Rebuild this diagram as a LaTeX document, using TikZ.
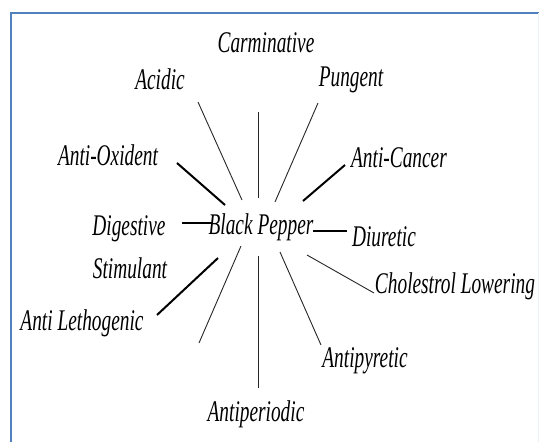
\documentclass[tikz,border=0pt]{standalone}
\usepackage{fontspec}
\setmainfont{Liberation Serif}
\usetikzlibrary{positioning}
\definecolor{frameblue}{RGB}{79,129,189}

\tikzset{
  prop/.style={font=\itshape\fontsize{30}{32}\selectfont, anchor=base,
    inner sep=0pt, xscale=0.645},
  thinspoke/.style={line width=0.9pt, black!85},
  thickspoke/.style={line width=2pt, black}
}

\begin{document}
\begin{tikzpicture}[x=1pt, y=-1pt]
    \useasboundingbox (0,0) rectangle (539,442);

    % Frame
    \draw[frameblue, line width=2pt] (11,442) -- (11,13) -- (539,13);
    \draw[frameblue!12, line width=1pt] (538,13) -- (538,442);

    % Centre
    \node[prop] (pepper) at (261,234) {Black Pepper};

    % Properties
    \node[prop] (carm)   at (266,52)  {Carminative};
    \node[prop] (acid)   at (160,89)  {Acidic};
    \node[prop] (pung)   at (351,86)  {Pungent};
    \node[prop] (oxid)   at (108,165) {Anti-Oxident};
    \node[prop] (canc)   at (399,167) {Anti-Cancer};
    \node[prop] (dige)   at (129,235) {Digestive};
    \node[prop] (diur)   at (384,246) {Diuretic};
    \node[prop] (stim)   at (130,278) {Stimulant};
    \node[prop] (chol)   at (455,293) {Cholestrol Lowering};
    \node[prop] (leth)   at (82,330)  {Anti Lethogenic};
    \node[prop] (pyre)   at (365,367) {Antipyretic};
    \node[prop] (peri)   at (256,421) {Antiperiodic};

    % Thin spokes
    \foreach \nm/\xa/\ya/\xb/\yb in {
        acid/242/200/198/102, carm/258/198/258/112, pung/275/202/318/103,
        free/241/246/199/343, peri/258/256/258/388,
        pyre/280/252/321/345, chol/307/255/374/293} {
      \coordinate (\nm-in)  at (\xa,\ya);
      \coordinate (\nm-out) at (\xb,\yb);
      \draw[thinspoke] (\nm-in) -- (\nm-out);
    }

    % Thick spokes
    \foreach \nm/\xa/\ya/\xb/\yb in {
        oxid/225/205/177/163, canc/303/201/345/165,
        dige/213/223/182/223, diur/313/231/347/231,
        leth/218/258/157/315} {
      \coordinate (\nm-in)  at (\xa,\ya);
      \coordinate (\nm-out) at (\xb,\yb);
      \draw[thickspoke] (\nm-in) -- (\nm-out);
    }
\end{tikzpicture}
\end{document}
